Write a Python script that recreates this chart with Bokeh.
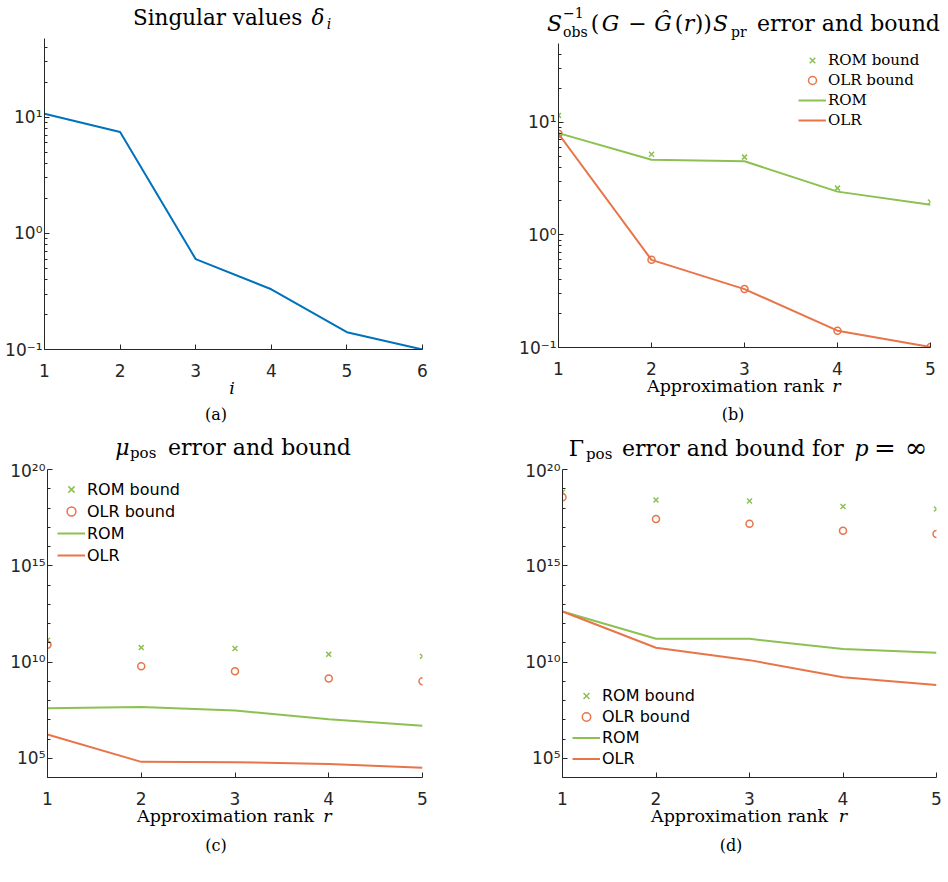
from bokeh.plotting import figure
from bokeh.models import (Range1d, FixedTicker, CustomJSTickFormatter, Div,
                          Legend, LegendItem)
from bokeh.layouts import column, row
from bokeh.embed import file_html
from bokeh.resources import INLINE

# ---------------- data ----------------
sv_index = [1, 2, 3, 4, 5, 6]
sv_values = [10.7, 7.45, 0.60, 0.33, 0.141, 0.100]

ranks = [1, 2, 3, 4, 5]

# (b) S_obs^{-1}(G - G(r))S_pr error and bound
b_rom_bound = [11.5, 5.2, 4.9, 2.6, 1.96]
b_olr_bound = [7.9, 0.60, 0.33, 0.141, 0.101]
b_rom_err = [8.0, 4.65, 4.5, 2.42, 1.85]
b_olr_err = [7.9, 0.60, 0.33, 0.141, 0.101]

# (c) mu_pos error and bound
c_rom_bound = [1.35e11, 5.6e10, 5.0e10, 2.5e10, 2.0e10]
c_olr_bound = [7.8e10, 6.0e9, 3.3e9, 1.4e9, 1.0e9]
c_rom_err = [4.0e7, 4.6e7, 3.0e7, 1.05e7, 4.9e6]
c_olr_err = [1.7e6, 6.5e4, 6.2e4, 5.1e4, 3.2e4]

# (d) Gamma_pos error and bound for p = inf
d_rom_bound = [6.6e18, 2.6e18, 2.3e18, 1.2e18, 8.9e17]
d_olr_bound = [3.6e18, 2.7e17, 1.5e17, 6.5e16, 4.5e16]
d_rom_err = [4.2e12, 1.6e11, 1.6e11, 4.8e10, 3.0e10]
d_olr_err = [4.2e12, 5.5e10, 1.25e10, 1.6e9, 6.3e8]

legend_labels = ["ROM bound", "OLR bound", "ROM", "OLR"]

# y ticks
ab_yticks = [0.1, 1, 10]
ab_yminor = [0.2, 0.3, 0.4, 0.5, 0.6, 0.7, 0.8, 0.9,
             2, 3, 4, 5, 6, 7, 8, 9, 20, 30, 40]
cd_yticks = [1e5, 1e10, 1e15, 1e20]
cd_yminor = [1e4, 1e6, 1e7, 1e8, 1e9, 1e11, 1e12, 1e13, 1e14,
             1e16, 1e17, 1e18, 1e19]

# ---------------- style ----------------
BLUE = "#0072BD"
GREEN = "#8CC152"
ORANGE = "#E8744A"
AX = "#262626"
SERIF = "DejaVu Serif"
SANS = "DejaVu Sans"
W = 474

SUP_JS = """
const sup = {"-":"\u207b","0":"\u2070","1":"\u00b9","2":"\u00b2","3":"\u00b3",
             "4":"\u2074","5":"\u2075","6":"\u2076","7":"\u2077","8":"\u2078","9":"\u2079"};
const e = Math.round(Math.log10(tick));
return "10" + String(e).split("").map(c => sup[c]).join("");
"""

FRAMES = {}


def make_fig(ox, oy, h, frame, xr, yr, xticks, yticks, yminor):
    """ox, oy: page position of the figure; frame: page coords (l, t, r, b)."""
    fl, ft, fr, fb = frame
    p = figure(width=W, height=h,
               x_range=Range1d(*xr), y_range=Range1d(*yr),
               y_axis_type="log", output_backend="svg",
               toolbar_location=None,
               min_border_left=fl - ox, min_border_right=ox + W - fr,
               min_border_top=ft - oy, min_border_bottom=oy + h - fb)
    p.outline_line_color = None
    p.xgrid.visible = False
    p.ygrid.visible = False
    p.background_fill_color = "white"
    p.border_fill_color = None
    for ax in (p.xaxis[0], p.yaxis[0]):
        ax.axis_line_color = AX
        ax.axis_line_width = 1
        ax.major_tick_line_color = AX
        ax.minor_tick_line_color = AX
        ax.major_tick_in = 5
        ax.major_tick_out = 0
        ax.minor_tick_in = 3
        ax.minor_tick_out = 0
        ax.major_label_text_font = SANS
        ax.major_label_text_font_size = "17px"
        ax.major_label_text_color = AX
    xa = p.xaxis[0]
    xa.ticker = FixedTicker(ticks=xticks, minor_ticks=[])
    xa.minor_tick_line_color = None
    xa.major_label_standoff = 14
    ya = p.yaxis[0]
    ya.ticker = FixedTicker(ticks=yticks, minor_ticks=yminor)
    ya.formatter = CustomJSTickFormatter(code=SUP_JS)
    ya.major_label_standoff = 2
    FRAMES[p.id] = frame
    return p


def add_legend(p, renderers, lx_abs, top_abs, row_h, font, size):
    fl, ft, fr, fb = FRAMES[p.id]
    items = [LegendItem(label=l, renderers=[r]) for l, r in zip(legend_labels, renderers)]
    bottom_abs = top_abs + 4 * row_h
    leg = Legend(items=items, location=(lx_abs - fl, fb - bottom_abs),
                 orientation="vertical", padding=0, margin=0, spacing=0,
                 glyph_width=28, glyph_height=row_h, label_height=row_h,
                 label_standoff=2, label_text_font=font,
                 label_text_font_size=f"{size}px", label_text_color="black",
                 border_line_color=None, background_fill_alpha=0)
    p.add_layout(leg)


def error_panel(p, rom_b, olr_b, rom_e, olr_e):
    r1 = p.scatter(ranks, rom_b, marker="x", size=7, line_color=GREEN, line_width=1.5)
    r2 = p.scatter(ranks, olr_b, marker="circle", size=7, line_color=ORANGE,
                   fill_color=None, line_width=1.5)
    r3 = p.line(ranks, rom_e, line_color=GREEN, line_width=2)
    r4 = p.line(ranks, olr_e, line_color=ORANGE, line_width=2)
    return [r1, r2, r3, r4]


def text_div(ox, oy, h, pieces):
    """pieces: (X, baselineY, text, size, italic, font, align) in page px."""
    spans = []
    for X, Y, txt, size, italic, font, align in pieces:
        top = Y - oy - 0.846 * size
        left = X - ox
        tr = "transform:translateX(-50%);" if align == "center" else ""
        st = "italic" if italic else "normal"
        spans.append(
            f'<span style="position:absolute;left:{left:.1f}px;top:{top:.1f}px;'
            f"font-family:'{font}';font-size:{size}px;line-height:1;"
            f'font-style:{st};white-space:nowrap;color:#000;{tr}">{txt}</span>')
    html = (f'<div style="position:relative;width:{W}px;height:{h}px;overflow:visible;">'
            + "".join(spans) + "</div>")
    return Div(text=html, width=W, height=h, margin=0,
               styles={"overflow": "visible", "z-index": "5"})


def P(X, Y, txt, size, italic=False, font=SERIF, align="left"):
    return (X, Y, txt, size, italic, font, align)


def C(X, Y, txt, size, italic=False, font=SERIF):
    return (X, Y, txt, size, italic, font, "center")


# ---------------- (a) ----------------
pa = make_fig(0, 33, 352, (44, 38, 422, 349), (1, 6), (0.1, 47.6),
              sv_index, ab_yticks, ab_yminor)
pa.line(sv_index, sv_values, line_color=BLUE, line_width=2)
ta = text_div(0, 0, 33, [
    P(133, 25, "Singular values", 21.5),
    C(318, 25, "\u03b4", 21.5, True),
    C(329, 29, "i", 14, True),
])
ba = text_div(0, 385, 43, [
    C(232, 395, "i", 17.5, True),
    C(216, 420, "(a)", 16),
])

# ---------------- (b) ----------------
pb = make_fig(474, 41, 344, (558, 43, 930, 347), (1, 5), (0.1, 50),
              ranks, ab_yticks, ab_yminor)
rb = error_panel(pb, b_rom_bound, b_olr_bound, b_rom_err, b_olr_err)
add_legend(pb, rb, 798, 50, 20, SERIF, 15)
by = 31.5
tb = text_div(474, 0, 41, [
    C(554.5, by, "S", 22, True),
    P(563, 18, "\u22121", 14),
    P(563, 37, "obs", 14),
    C(595, by, "(", 22),
    C(610.5, by, "G", 22, True),
    C(637.5, by, "\u2212", 22),
    C(663, by, "\u011c", 22, True),
    C(679, by, "(", 22),
    C(689, by, "r", 22, True),
    C(699, by, ")", 22),
    C(707.5, by, ")", 22),
    C(720.5, by, "S", 22, True),
    P(731, 37, "pr", 14),
    P(757, by, "error and bound", 22),
])
bb = text_div(474, 385, 43, [
    P(647, 393, "Approximation rank", 17.5),
    C(836.5, 393, "r", 17.5, True),
    C(733, 420, "(b)", 16),
])

# ---------------- (c) ----------------
pc = make_fig(0, 460, 352, (47, 469, 422, 777), (1, 5), (1e4, 1e20),
              ranks, cd_yticks, cd_yminor)
rc = error_panel(pc, c_rom_bound, c_olr_bound, c_rom_err, c_olr_err)
add_legend(pc, rc, 57, 478, 22, SANS, 16)
tc = text_div(0, 428, 32, [
    C(122.5, 456, "\u03bc", 22, True),
    P(130, 459, "pos", 15),
    P(168, 456, "error and bound", 22),
])
bc = text_div(0, 812, 70, [
    P(137, 823, "Approximation rank", 17.5),
    C(327.5, 823, "r", 17.5, True),
    C(216, 851, "(c)", 16),
])

# ---------------- (d) ----------------
pd_ = make_fig(474, 460, 352, (562, 469, 936, 777), (1, 5), (1e4, 1e20),
               ranks, cd_yticks, cd_yminor)
rd = error_panel(pd_, d_rom_bound, d_olr_bound, d_rom_err, d_olr_err)
add_legend(pd_, rd, 572, 685, 21, SANS, 16)
td = text_div(474, 428, 32, [
    C(576.5, 457, "\u0393", 22),
    P(586, 460, "pos", 15),
    P(622, 457, "error and bound for", 22),
    C(861.5, 457, "p", 22, True),
    C(885, 457, "=", 26),
    C(916, 457, "\u221e", 27),
])
bd = text_div(474, 812, 70, [
    P(651, 823, "Approximation rank", 17.5),
    C(843, 823, "r", 17.5, True),
    C(731, 851, "(d)", 16),
])

page = column(
    row(column(ta, pa, ba, spacing=0), column(tb, pb, bb, spacing=0), spacing=0),
    row(column(tc, pc, bc, spacing=0), column(td, pd_, bd, spacing=0), spacing=0),
    spacing=0)

open("out.html", "w").write(file_html(page, INLINE))
